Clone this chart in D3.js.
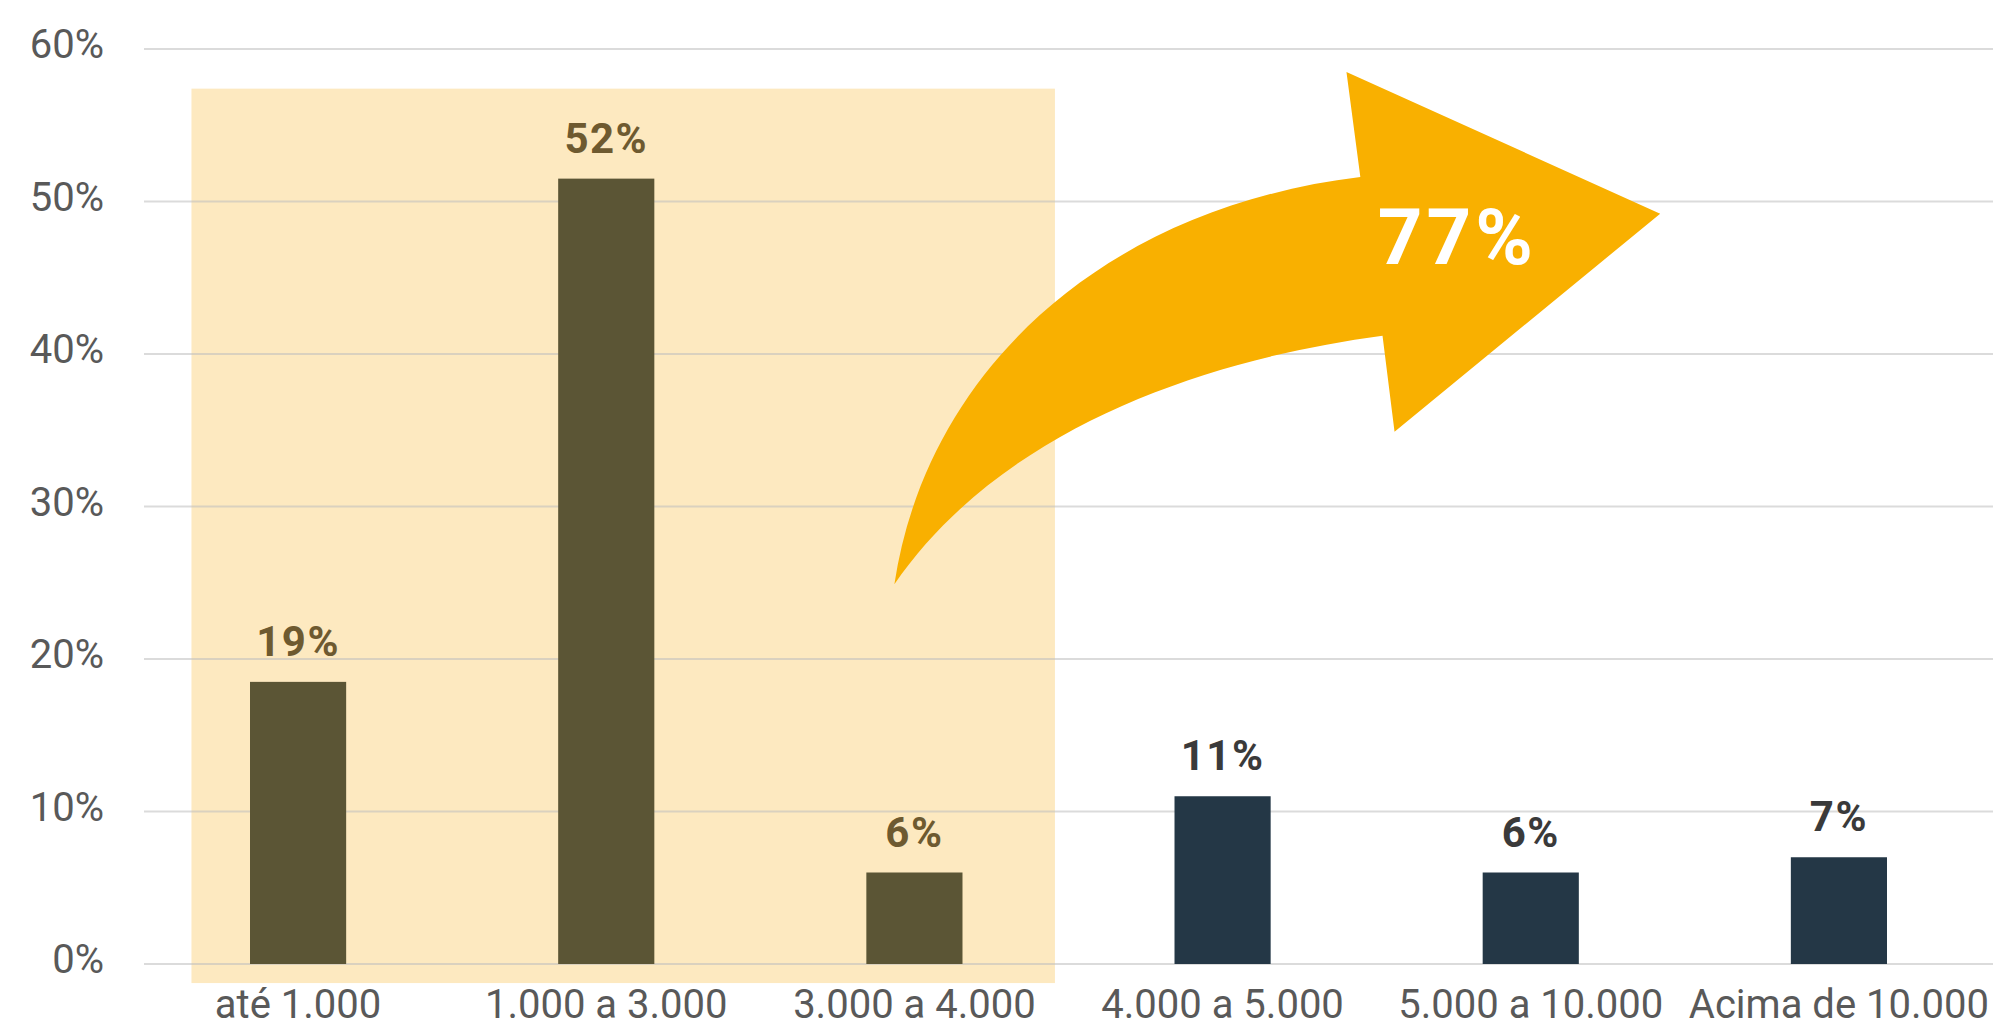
<!DOCTYPE html>
<html lang="pt">
<head>
  <meta charset="UTF-8">
  <script src="https://cdn.jsdelivr.net/npm/d3@7"></script>
  <title>Faixas</title>
  <style>
    body { margin: 0; background: #fff; }
    text { font-family: Roboto, "DejaVu Sans", sans-serif; }
    .tick-label { fill: #595959; font-size: 40px; }
    .cat-label { fill: #595959; font-size: 40px; }
    .val-label { font-size: 42px; font-weight: 700; letter-spacing: 1.5px; }
  </style>
</head>
<body>
<script>
  const categories = ['até 1.000', '1.000 a 3.000', '3.000 a 4.000', '4.000 a 5.000', '5.000 a 10.000', 'Acima de 10.000']
  const values = [18.5, 51.5, 6, 11, 6, 7]
  const valueLabels = ['19%', '52%', '6%', '11%', '6%', '7%']
  const highlighted = [true, true, true, false, false, false]
  const yTicks = [0, 10, 20, 30, 40, 50, 60]
  const totalLabel = '77%'

  // arrow outline in data units: [band index, value]
  const arrowOuter = [[1.935, 24.9], [2.04, 39.0], [2.62, 49.6], [3.447, 51.6]]
  const arrowHead = [[3.402, 58.5], [4.42, 49.2], [3.558, 34.9], [3.519, 41.2]]
  const arrowInner = [[2.928, 39.6], [2.279, 35.0], [1.935, 24.9]]
  const arrowText = [3.762, 45.9]

  const W = 1997, H = 1027
  const svg = d3.select('body').append('svg')
    .attr('width', W)
    .attr('height', H)

  const x = d3.scaleBand().domain(categories).range([144, 1993])
    .paddingInner(0.688).paddingOuter(0.344)
  const y = d3.scaleLinear().domain([0, 60]).range([964, 49])
  const step = x.step(), bw = x.bandwidth()
  // band index -> pixel centre
  const xi = d3.scaleLinear().domain([0, 1]).range([x(categories[0]) + bw / 2, x(categories[0]) + bw / 2 + step])

  // highlight box behind first three bars
  const hx0 = x(categories[0]) - 0.19 * step
  const hx1 = x(categories[2]) + bw + 0.30 * step
  svg.append('rect')
    .attr('x', hx0)
    .attr('y', y(57.4))
    .attr('width', hx1 - hx0)
    .attr('height', y(-1.25) - y(57.4))
    .attr('fill', '#fde9c0')

  // gridlines
  svg.selectAll('line.grid').data(yTicks).enter()
    .append('line').attr('class', 'grid')
    .attr('x1', 144).attr('x2', 1993)
    .attr('y1', d => y(d)).attr('y2', d => y(d))
    .attr('stroke', '#bdbdbd').attr('stroke-opacity', 0.55).attr('stroke-width', 2)

  svg.selectAll('text.tick-label').data(yTicks).enter()
    .append('text').attr('class', 'tick-label')
    .attr('x', 104).attr('y', d => y(d) + 9)
    .attr('text-anchor', 'end')
    .text(d => d + '%')

  // bars
  svg.selectAll('rect.bar').data(values).enter()
    .append('rect').attr('class', 'bar')
    .attr('x', (d, i) => x(categories[i]))
    .attr('y', d => y(d))
    .attr('width', bw)
    .attr('height', d => y(0) - y(d))
    .attr('fill', (d, i) => highlighted[i] ? '#5b5535' : '#243746')

  svg.selectAll('text.val-label').data(values).enter()
    .append('text').attr('class', 'val-label')
    .attr('x', (d, i) => x(categories[i]) + bw / 2)
    .attr('y', d => y(d) - 26)
    .attr('text-anchor', 'middle')
    .attr('fill', (d, i) => highlighted[i] ? '#6e5a30' : '#3a3a3a')
    .text((d, i) => valueLabels[i])

  const cats = svg.selectAll('text.cat-label').data(categories).enter()
    .append('text').attr('class', 'cat-label')
    .attr('x', d => x(d) + bw / 2)
    .attr('y', 1018)
    .attr('text-anchor', 'middle')
    .text(d => d)
  // keep last label inside the frame
  cats.each(function () {
    const b = this.getBBox()
    if (b.x + b.width > 1990) d3.select(this).attr('x', +d3.select(this).attr('x') - (b.x + b.width - 1990))
  })

  // curved arrow
  const P = p => [xi(p[0]), y(p[1])]
  const p = d3.path()
  const o = arrowOuter.map(P)
  p.moveTo(...o[0])
  p.bezierCurveTo(...o[1], ...o[2], ...o[3])
  arrowHead.map(P).forEach(q => p.lineTo(...q))
  const n = arrowInner.map(P)
  p.bezierCurveTo(...n[0], ...n[1], ...n[2])
  p.closePath()
  svg.append('path').attr('d', p.toString()).attr('fill', '#f9b000')

  svg.append('text')
    .attr('x', xi(arrowText[0])).attr('y', y(arrowText[1]))
    .attr('text-anchor', 'middle')
    .attr('fill', '#fff')
    .style('font-size', '78px').style('font-weight', 700).style('letter-spacing', '4px')
    .text(totalLabel)
</script>
</body>
</html>
